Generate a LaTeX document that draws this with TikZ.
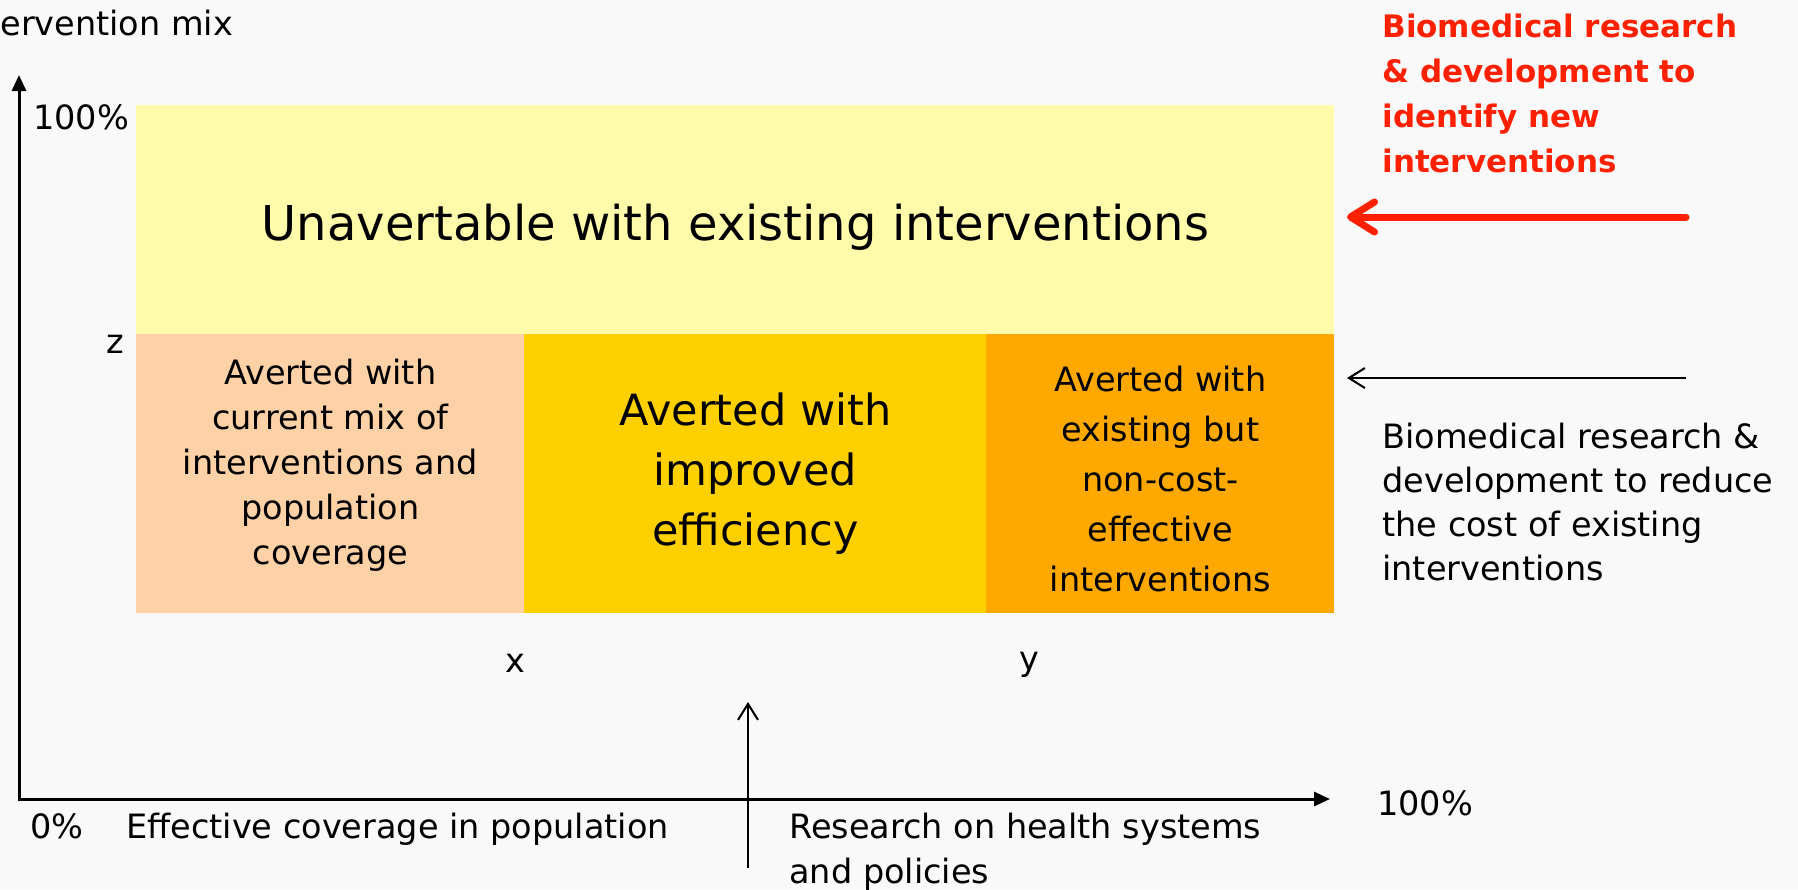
\documentclass[tikz,border=0pt]{standalone}
\usepackage{fontspec}
\setmainfont{DejaVu Sans}
\usetikzlibrary{arrows.meta}

\definecolor{bgcol}{HTML}{F9F9F9}
\definecolor{unavcol}{HTML}{FFFBAA}
\definecolor{currcol}{HTML}{FFD1A6}
\definecolor{efficol}{HTML}{FFD000}
\definecolor{costcol}{HTML}{FFA800}
\definecolor{rdcol}{HTML}{FF2000}

\tikzset{
  block/.style={inner sep=0pt, anchor=north west},
  blocktext/.style={inner sep=0pt, align=center},
  normtext/.style={inner sep=0pt, font=\fontsize{16.75}{22.5}\selectfont},
  axis/.style={line width=1.5pt, line join=miter,
    {Triangle[length=8pt,width=7pt]}-{Triangle[length=8pt,width=7pt]}},
  thinarrow/.style={line width=1pt, -{Straight Barb[length=8pt,width=10pt]}},
  redarrow/.style={rdcol, line width=3.5pt, line cap=round,
    -{Straight Barb[length=12pt,width=15pt,round]}}
}

\begin{document}
\begin{tikzpicture}[x=0.5pt,y=-0.5pt]
    \fill [bgcol] (0,0) rectangle (1798,889);        % page background
    \useasboundingbox (0,0) rectangle (1798,889);

    % the four blocks
    \node [block, fill=unavcol, minimum width=599pt, minimum height=114.5pt] (unav) at (136,105) {};
    \node [block, fill=currcol, minimum width=194pt, minimum height=139.5pt] (curr) at (136,334) {};
    \node [block, fill=efficol, minimum width=231pt, minimum height=139.5pt] (effi) at (524,334) {};
    \node [block, fill=costcol, minimum width=174pt, minimum height=139.5pt] (cost) at (986,334) {};

    % their texts
    \node [blocktext, font=\fontsize{24}{30}\selectfont] (unavtext)
        at ([yshift=-3.5pt]unav.center) {Unavertable with existing interventions};
    \node [blocktext, font=\fontsize{16.75}{22.5}\selectfont] (currtext)
        at ([yshift=4.5pt]curr.center)
        {Averted with\\current mix of\\interventions and\\population\\coverage};
    \node [blocktext, font=\fontsize{21.5}{30}\selectfont] (effitext)
        at (effi.center) {Averted with\\improved\\efficiency};
    \node [blocktext, font=\fontsize{16.75}{25}\selectfont] (costtext)
        at ([yshift=-2.5pt]cost.center)
        {Averted with\\existing but\\non-cost-\\effective\\interventions};

    % axes
    \coordinate (ytip) at (19,75);
    \coordinate (orig) at (19,799);
    \coordinate (xtip) at (1330,799);
    \draw [axis] (ytip) -- (orig) -- (xtip);

    % axis labels
    \node [normtext, anchor=base west] (ymix) at (0,35) {ervention mix};
    \node [normtext, anchor=base] (ytop) at (81,129) {100\%};
    \node [normtext, anchor=base] (zlab) at (115,353) {z};
    \node [normtext, anchor=base] (xlab) at (515,672) {x};
    \node [normtext, anchor=base] (ylab) at (1029,670) {y};
    \node [normtext, anchor=base] (zero) at (57,838) {0\%};
    \node [normtext, anchor=base west] (effcov) at (126,838)
        {Effective coverage in population};
    \node [normtext, anchor=base] (xend) at (1425,815) {100\%};

    % research arrows
    \coordinate (redfrom) at (1686,217);
    \coordinate (redto) at (1347,217);
    \draw [redarrow] (redfrom) -- (redto);
    \node [normtext, anchor=north west, align=left, text=rdcol,
        font=\fontsize{15.5}{22.5}\selectfont\bfseries] (newint) at (1382,14)
        {Biomedical research\\\& development to\\identify new\\interventions};

    \coordinate (costfrom) at (1686,378);
    \coordinate (costto) at (1347,378);
    \draw [thinarrow] (costfrom) -- (costto);
    \node [normtext, anchor=north west, align=left,
        font=\fontsize{16.75}{22}\selectfont] (lesscost) at (1382,423)
        {Biomedical research \&\\development to reduce\\the cost of existing\\interventions};

    \coordinate (hsrfrom) at (748,868);
    \coordinate (hsrto) at (748,702);
    \draw [thinarrow] (hsrfrom) -- (hsrto);
    \node [normtext, anchor=north west, align=left] (hsr) at (789,813)
        {Research on health systems\\and policies};
\end{tikzpicture}
\end{document}
